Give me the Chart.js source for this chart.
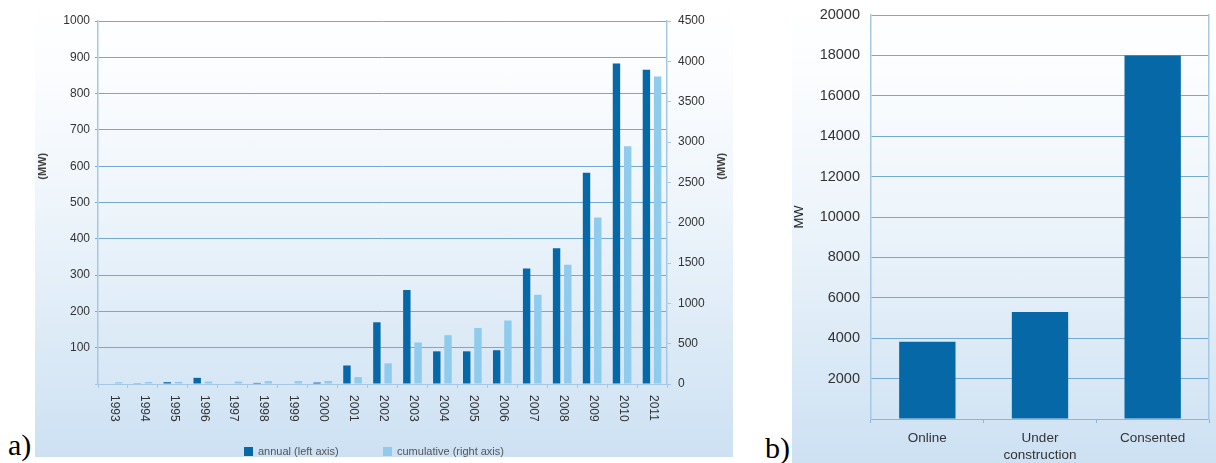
<!DOCTYPE html>
<html>
<head>
<meta charset="utf-8">
<title>Offshore wind capacity</title>
<script src="https://cdn.jsdelivr.net/npm/chart.js@4.4.1/dist/chart.umd.min.js"></script>
<style>
  html, body { margin: 0; padding: 0; background: #ffffff; width: 1216px; height: 463px; overflow: hidden;
               font-family: "Liberation Sans", Arial, sans-serif; }
  .panel { position: absolute;
           background: linear-gradient(to bottom, #ffffff 0%, #fcfdff 14%, #eef5fb 45%, #cde1f3 100%); }
  #panelA { left: 35px; top: 0; width: 698px; height: 457px; }
  #panelB { left: 792px; top: 0; width: 424px; height: 463px; }
  .panel canvas { position: absolute; left: 0; top: 0; }
  .tag { position: absolute; font-family: "Liberation Serif", "Times New Roman", serif; font-size: 30px;
         color: #000; line-height: 1; }
  .legend { position: absolute; top: 445px; font-size: 11px; color: #555; display: flex; align-items: center;
            height: 12px; white-space: nowrap; }
  .sw { display: inline-block; width: 9px; height: 9px; margin-right: 5px; }
</style>
</head>
<body>
<div class="panel" id="panelA"><canvas id="chartA" width="698" height="457"></canvas></div>
<div class="panel" id="panelB"><canvas id="chartB" width="424" height="463"></canvas></div>

<div class="legend" style="left:244px;"><span class="sw" style="background:#0668a7"></span>annual (left axis)</div>
<div class="legend" style="left:383px;"><span class="sw" style="background:#8ecbec"></span>cumulative (right axis)</div>

<div class="tag" style="left:8px; top:430px;">a)</div>
<div class="tag" style="left:765px; top:433px;">b)</div>

<script>
// Yearly offshore installations (MW, left axis) and running total (MW, right axis)
const years = ['1993', '1994', '1995', '1996', '1997', '1998', '1999', '2000', '2001', '2002',
               '2003', '2004', '2005', '2006', '2007', '2008', '2009', '2010', '2011'];
const annualMW = [0, 2, 5, 17, 0, 3, 0, 4, 51, 170, 259, 90, 90, 93, 318, 374, 582, 883, 866];
const cumulativeMW = [22, 24, 27, 30, 30, 35, 36, 38, 86, 256, 515, 605, 695, 787, 1106, 1479, 2063, 2946, 3813];

// Project pipeline (MW)
const stages = ['Online', ['Under', 'construction'], 'Consented'];
const pipelineMW = [3830, 5300, 18000];

// Axis tick settings
const annualAxisMax = 1000, annualAxisStep = 100;
const cumulativeAxisMax = 4500, cumulativeAxisStep = 500;
const pipelineAxisMax = 20000, pipelineAxisStep = 2000;

const DARK = '#0668a7';
const LIGHT = '#8ecbec';
const GRID = '#72a9d6';
const AXIS = '#a6c8e4';
const FONT = '"Liberation Sans", Arial, sans-serif';

// Plain integers, no thousands separator
const plain = v => String(v);
const plainNoZero = v => (v === 0 ? '' : String(v));

// Year labels read top-to-bottom, so they are painted here rather than by the scale
const verticalYearLabels = {
  id: 'verticalYearLabels',
  afterDraw(chart) {
    const xs = chart.scales.x;
    const ctx = chart.ctx;
    ctx.save();
    ctx.font = '12px ' + FONT;
    ctx.fillStyle = '#333';
    ctx.textAlign = 'left';
    ctx.textBaseline = 'middle';
    chart.data.labels.forEach((lab, i) => {
      const x = xs.getPixelForTick(i);
      ctx.save();
      ctx.translate(x + 1, xs.top + 11);
      ctx.rotate(Math.PI / 2);
      ctx.fillText(lab, 0, 0);
      ctx.restore();
    });
    ctx.restore();
  }
};

// "(MW)" unit captions beside both vertical axes
const unitCaptions = {
  id: 'unitCaptions',
  afterDraw(chart) {
    const ctx = chart.ctx;
    const area = chart.chartArea;
    const y = area.top + (area.bottom - area.top) * 0.4;
    const spots = [8, chart.width - 11];
    ctx.save();
    ctx.font = 'bold 11px ' + FONT;
    ctx.fillStyle = '#444';
    ctx.textAlign = 'center';
    ctx.textBaseline = 'middle';
    spots.forEach(x => {
      ctx.save();
      ctx.translate(x, y);
      ctx.rotate(-Math.PI / 2);
      ctx.fillText('(MW)', 0, 0);
      ctx.restore();
    });
    ctx.restore();
  }
};

new Chart(document.getElementById('chartA'), {
  type: 'bar',
  data: {
    labels: years,
    datasets: [
      { label: 'annual (left axis)', data: annualMW, backgroundColor: DARK, yAxisID: 'y',
        categoryPercentage: 0.75, barPercentage: 0.66 },
      { label: 'cumulative (right axis)', data: cumulativeMW, backgroundColor: LIGHT, yAxisID: 'y1',
        categoryPercentage: 0.75, barPercentage: 0.66 }
    ]
  },
  options: {
    responsive: false,
    animation: false,
    layout: { padding: { left: 0, right: 0, top: 21, bottom: 0 } },
    plugins: { legend: { display: false }, tooltip: { enabled: false } },
    scales: {
      x: {
        grid: { offset: true, drawOnChartArea: false, drawTicks: true, tickLength: 4, color: AXIS },
        border: { color: AXIS, width: 1 },
        ticks: { display: false },
        afterFit(s) { s.height = 73; }
      },
      y: {
        position: 'left',
        min: 0, max: annualAxisMax,
        ticks: { stepSize: annualAxisStep, callback: plainNoZero,
                 font: { family: FONT, size: 12 }, color: '#333', padding: 5 },
        grid: { color: c => (c.tick && c.tick.value === 0 ? AXIS : GRID), tickLength: 3 },
        border: { color: AXIS, width: 1.5 },
        afterFit(s) { s.width = 63; }
      },
      y1: {
        position: 'right',
        min: 0, max: cumulativeAxisMax,
        ticks: { stepSize: cumulativeAxisStep, callback: plain,
                 font: { family: FONT, size: 12 }, color: '#333', padding: 7 },
        grid: { drawOnChartArea: false, tickLength: 4, color: AXIS },
        border: { color: AXIS, width: 1.5 },
        afterFit(s) { s.width = 66; }
      }
    }
  },
  plugins: [verticalYearLabels, unitCaptions]
});

new Chart(document.getElementById('chartB'), {
  type: 'bar',
  data: {
    labels: stages,
    datasets: [
      { label: 'MW', data: pipelineMW, backgroundColor: DARK, categoryPercentage: 1, barPercentage: 0.5 }
    ]
  },
  options: {
    responsive: false,
    animation: false,
    layout: { padding: { left: 0, right: 7, top: 15, bottom: 0 } },
    plugins: { legend: { display: false }, tooltip: { enabled: false } },
    scales: {
      x: {
        grid: { offset: true, drawOnChartArea: false, drawTicks: true, tickLength: 4, color: '#8fb6d8' },
        border: { color: '#8fb6d8', width: 1 },
        ticks: { font: { family: FONT, size: 13.5, lineHeight: 1.25 }, color: '#333', padding: 7,
                 maxRotation: 0, autoSkip: false },
        afterFit(s) { s.height = 44; }
      },
      y: {
        position: 'left',
        min: 0, max: pipelineAxisMax,
        ticks: { stepSize: pipelineAxisStep, callback: plainNoZero,
                 font: { family: FONT, size: 14.5 }, color: '#333', padding: 4 },
        grid: { color: c => (c.tick && c.tick.value === 0 ? AXIS : GRID),
                drawTicks: true, tickLength: 7, tickColor: 'rgba(0,0,0,0)' },
        border: { color: AXIS, width: 1.5 },
        title: { display: true, text: 'MW', font: { family: FONT, size: 13 }, color: '#222',
                 padding: { top: 0, bottom: 0 } },
        afterFit(s) { s.width = 79; }
      },
      yEdge: {
        position: 'right',
        ticks: { display: false },
        grid: { drawOnChartArea: false, drawTicks: false },
        border: { color: AXIS, width: 1.5 },
        afterFit(s) { s.width = 0; }
      }
    }
  }
});
</script>
</body>
</html>
